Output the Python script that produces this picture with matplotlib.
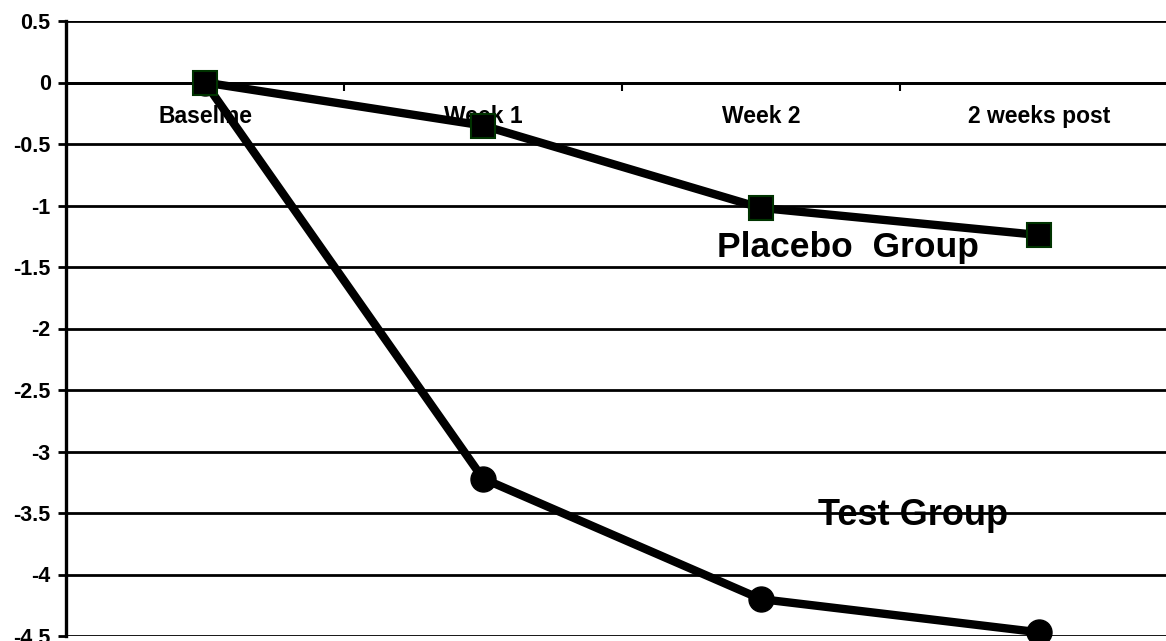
import numpy as np
import matplotlib.pyplot as plt

categories = ["Baseline", "Week 1", "Week 2", "2 weeks post"]
placebo = [0, -0.35, -1.02, -1.24]
test = [0, -3.22, -4.20, -4.47]
yticks = [0.5, 0, -0.5, -1, -1.5, -2, -2.5, -3, -3.5, -4, -4.5]

plt.rcParams['font.family'] = ['Liberation Sans', 'DejaVu Sans']
plt.rcParams['font.weight'] = 'bold'

fig = plt.figure(figsize=(11.66, 6.41), dpi=100)
ax = fig.add_axes([66 / 1166, 5 / 641, 1112 / 1166, 615 / 641])

ind = np.arange(len(categories))

# horizontal gridlines
for v in yticks:
    ax.axhline(v, color="black", lw=2.0, zorder=1)

ax.plot(ind, test, color="black", lw=6, marker="o", markersize=18,
        markerfacecolor="black", markeredgecolor="black", zorder=3, clip_on=False)
ax.plot(ind, placebo, color="black", lw=6, marker="s", markersize=17,
        markerfacecolor="black", markeredgecolor="#003300", markeredgewidth=1.5,
        zorder=4, clip_on=False)

ax.set_xlim(-0.5, 3.5)
ax.set_ylim(-4.5, 0.5)
ax.set_yticks(yticks)
ax.set_yticklabels(["%g" % v for v in yticks], fontsize=15.5, fontweight="bold")
ax.tick_params(axis="y", direction="out", length=6, width=2, pad=5)

ax.spines['top'].set_visible(False)
ax.spines['right'].set_visible(False)
ax.spines['left'].set_linewidth(2.4)
ax.spines['bottom'].set_position(('data', 0))
ax.spines['bottom'].set_linewidth(2.0)
ax.set_xticks([0.5, 1.5, 2.5])
ax.set_xticklabels([])
ax.tick_params(axis="x", direction="out", length=6, width=1.5)

for i, lab in enumerate(categories):
    ax.text(i, -0.28, lab, ha="center", va="center", fontsize=16.5,
            fontweight="bold", zorder=2)

ax.text(2.313, -1.345, "Placebo  Group", ha="center", va="center",
        fontsize=25.5, fontweight="bold", zorder=5)
ax.text(2.547, -3.52, "Test Group", ha="center", va="center",
        fontsize=26, fontweight="bold", zorder=5)

fig.savefig("out.png", dpi=100)
